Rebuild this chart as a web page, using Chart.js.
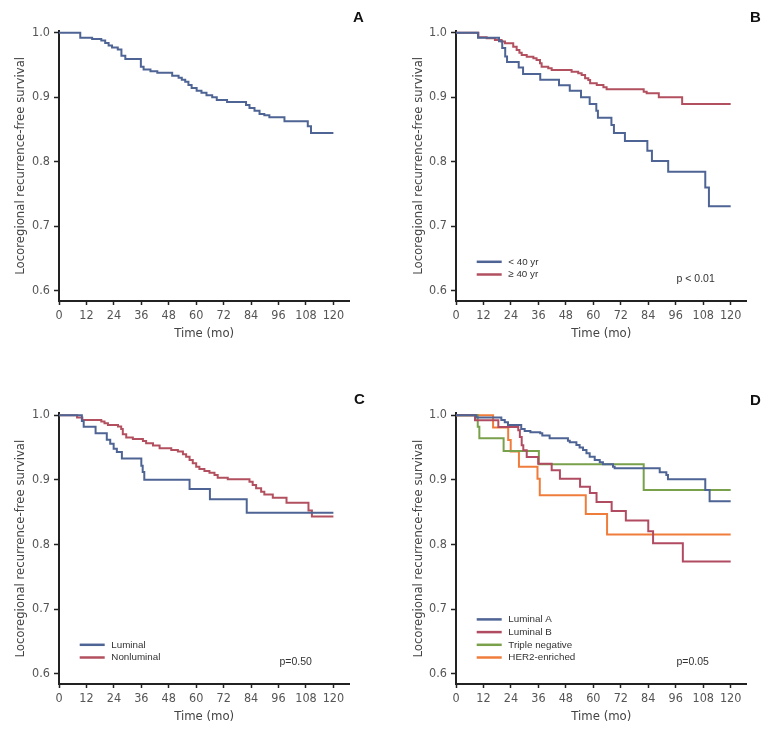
<!DOCTYPE html>
<html><head><meta charset="utf-8">
<script src="https://cdn.jsdelivr.net/npm/chart.js@4.4.1/dist/chart.umd.min.js"></script>
<style>
html,body{margin:0;padding:0;background:#fff;}
body{width:761px;height:731px;position:relative;overflow:hidden;}
canvas{position:absolute;}
.lbl{position:absolute;font:bold 15px "Liberation Sans",Arial,sans-serif;color:#111;line-height:15px;}
</style></head><body>
<canvas id="cA" width="380" height="345" style="left:0;top:0"></canvas>
<canvas id="cB" width="381" height="345" style="left:380px;top:0"></canvas>
<canvas id="cC" width="380" height="351" style="left:0;top:380px"></canvas>
<canvas id="cD" width="381" height="351" style="left:380px;top:380px"></canvas>
<div class="lbl" style="left:353px;top:9px">A</div>
<div class="lbl" style="left:750px;top:9px">B</div>
<div class="lbl" style="left:354px;top:391px">C</div>
<div class="lbl" style="left:750px;top:392px">D</div>
<script>
// ---- tick labels ----
const xTickValues = [0, 12, 24, 36, 48, 60, 72, 84, 96, 108, 120];
const yTickValues = [0.6, 0.7, 0.8, 0.9, 1.0];
const xTitle = 'Time (mo)';
const yTitle = 'Locoregional recurrence-free survival';

// ---- Panel A: all patients ----
const aTime = [9.3, 14.5, 18.5, 20.2, 21.7, 23.2, 25.7, 27.3, 29, 35.8, 37, 40, 43, 49.5, 52.3, 53.7, 55.2, 56.6, 58, 60.2, 62.3, 64.5, 67, 69, 73.5, 81.8, 83.3, 85.5, 87.7, 89.8, 92, 98.6, 108.8, 110.2, 120];
const aSurv = [0.992, 0.990, 0.988, 0.984, 0.980, 0.977, 0.974, 0.964, 0.959, 0.947, 0.943, 0.940, 0.938, 0.933, 0.930, 0.927, 0.924, 0.919, 0.914, 0.910, 0.907, 0.903, 0.900, 0.8955, 0.8925, 0.888, 0.883, 0.879, 0.874, 0.872, 0.8687, 0.8625, 0.855, 0.8445, 0.8445];

// ---- Panel B: age ----
const bLabels = ['< 40 yr', '\u2265 40 yr'];
const bYoungTime = [9.6, 18.8, 20.2, 21.5, 22.3, 27.4, 29.3, 36.8, 45, 49.7, 54.6, 58.4, 61.3, 62, 67.9, 69, 73.8, 83.6, 85.6, 92.7, 108.9, 110.5, 120];
const bYoungSurv = [0.992, 0.9866, 0.976, 0.963, 0.9545, 0.946, 0.936, 0.927, 0.9184, 0.910, 0.900, 0.8895, 0.879, 0.868, 0.857, 0.8445, 0.832, 0.817, 0.801, 0.7845, 0.760, 0.731, 0.731];
const bOldTime = [9.8, 13.4, 17, 19.9, 21.4, 25, 26.5, 27.7, 28.7, 30.9, 33.8, 35.2, 36.7, 37.4, 40.3, 41.8, 50.5, 53.4, 54.9, 56.4, 57.8, 58.6, 61.5, 64.4, 65.8, 82, 83.3, 88.6, 98.8, 120];
const bOldSurv = [0.9928, 0.9912, 0.9887, 0.9861, 0.9835, 0.9783, 0.9731, 0.969, 0.9654, 0.9628, 0.9602, 0.9576, 0.9525, 0.9473, 0.9447, 0.9421, 0.9395, 0.937, 0.9344, 0.9292, 0.9266, 0.9214, 0.9188, 0.9152, 0.9121, 0.9085, 0.9059, 0.8997, 0.8894, 0.8894];
const bP = 'p < 0.01';

// ---- Panel C: luminal vs nonluminal ----
const cLabels = ['Luminal', 'Nonluminal'];
const cLumTime = [10, 10.8, 16, 20.9, 22.4, 23.9, 25.3, 27.5, 36, 36.6, 37.3, 57.1, 66, 82.1, 120];
const cLumSurv = [0.991, 0.982, 0.972, 0.962, 0.956, 0.948, 0.943, 0.933, 0.922, 0.912, 0.900, 0.886, 0.870, 0.849, 0.849];
const cNonTime = [7.9, 10.2, 18.5, 19.9, 21.4, 25.8, 27.2, 27.9, 29.4, 32.3, 36.7, 38.1, 41.1, 44, 49.1, 52, 54.2, 55.6, 57.1, 58.5, 60, 61.4, 63.6, 65.8, 68, 69.4, 73.8, 83.3, 84.7, 86.2, 88.4, 89.8, 93.5, 99.5, 109.1, 110.6, 120];
const cNonSurv = [0.9964, 0.9928, 0.9902, 0.9876, 0.985, 0.9824, 0.9788, 0.9705, 0.9654, 0.9633, 0.9602, 0.9566, 0.953, 0.9488, 0.9462, 0.9437, 0.9395, 0.9359, 0.9307, 0.9256, 0.9204, 0.9168, 0.9137, 0.9111, 0.9075, 0.9034, 0.9008, 0.8971, 0.892, 0.8868, 0.8816, 0.8775, 0.8723, 0.8646, 0.8527, 0.8434, 0.8434];
const cP = 'p=0.50';

// ---- Panel D: subtypes ----
const dLabels = ['Luminal A', 'Luminal B', 'Triple negative', 'HER2-enriched'];
const dLumATime = [8.9, 19.8, 21.3, 22.7, 28.5, 30, 32.5, 36.8, 37.7, 40.9, 48.9, 49.7, 52.6, 54, 55.5, 57, 58.4, 60.6, 62.8, 64.2, 68.6, 69.3, 89, 91.9, 92.6, 108.9, 110.8, 120];
const dLumASurv = [0.9964, 0.9928, 0.9892, 0.985, 0.9788, 0.9757, 0.9736, 0.9721, 0.9685, 0.9643, 0.9607, 0.9581, 0.954, 0.9499, 0.9462, 0.941, 0.9359, 0.9307, 0.9271, 0.924, 0.9204, 0.9178, 0.9116, 0.9075, 0.9008, 0.8842, 0.867, 0.867];
const dLumBTime = [8.3, 18.5, 27.2, 27.9, 28.7, 29.4, 30.9, 35.9, 41.8, 45.4, 54.2, 58.5, 61.4, 68, 74.2, 84, 86.1, 99.1, 120];
const dLumBSurv = [0.9922, 0.9819, 0.9767, 0.9664, 0.9535, 0.9457, 0.9354, 0.9251, 0.9147, 0.9018, 0.8893, 0.8796, 0.8656, 0.8516, 0.837, 0.8206, 0.802, 0.7736, 0.7736];
const dTNTime = [9.5, 10.2, 20.8, 36.2, 82, 120];
const dTNSurv = [0.982, 0.9643, 0.9447, 0.924, 0.8842, 0.8842];
const dHerTime = [16.2, 22.8, 23.9, 27.5, 35.6, 36.6, 56.7, 66, 120];
const dHerSurv = [0.981, 0.9618, 0.9437, 0.9204, 0.9018, 0.876, 0.847, 0.8155, 0.8155];
const dP = 'p=0.05';

// ---- styling ----
const FONT = '"DejaVu Sans Condensed","Liberation Sans",sans-serif';
const LFONT = '"Liberation Sans",Arial,sans-serif';
const BLUE = '#4e6494', RED = '#b3505f', GREEN = '#79a04b', ORANGE = '#f07c3c', REDB = '#b04b62';

function km(times, survs) {
  return [{x: 0, y: 1}].concat(times.map((t, i) => ({x: t, y: survs[i]})));
}
function ds(label, times, survs, color) {
  return {label, data: km(times, survs), borderColor: color, backgroundColor: color,
    borderWidth: 2, pointRadius: 0, stepped: 'before', fill: false, tension: 0};
}

const kmOverlay = {
  id: 'kmOverlay',
  afterDatasetsDraw(chart, args, opts) {
    const {ctx, chartArea: ca} = chart;
    ctx.save();
    if (opts.legend) {
      const n = chart.data.datasets.length;
      const lastY = ca.bottom - 26.5;
      chart.data.datasets.forEach((d, i) => {
        const y = lastY - (n - 1 - i) * 12.7;
        ctx.strokeStyle = d.borderColor; ctx.lineWidth = 2.5;
        ctx.beginPath(); ctx.moveTo(ca.left + 20.7, y); ctx.lineTo(ca.left + 45.7, y); ctx.stroke();
        ctx.fillStyle = '#333'; ctx.font = '9.8px ' + LFONT;
        ctx.textBaseline = 'middle'; ctx.textAlign = 'left';
        ctx.fillText(d.label, ca.left + 52.3, y);
      });
    }
    if (opts.pText) {
      ctx.fillStyle = '#333'; ctx.font = '10.5px ' + LFONT;
      ctx.textBaseline = 'middle'; ctx.textAlign = 'left';
      ctx.fillText(opts.pText, ca.left + 220.5, ca.bottom - 22);
    }
    ctx.restore();
  }
};

function makeChart(id, datasets, geo, overlay) {
  return new Chart(document.getElementById(id), {
    type: 'line',
    data: {datasets},
    options: {
      responsive: false, animation: false, devicePixelRatio: 1,
      layout: {padding: {top: geo.top, right: geo.right, left: 0, bottom: 0}},
      plugins: {legend: {display: false}, tooltip: {enabled: false}, kmOverlay: overlay},
      scales: {
        x: {
          type: 'linear', min: 0, max: 127,
          afterBuildTicks: s => { s.ticks = xTickValues.map(v => ({value: v})); },
          afterFit: s => { s.height = geo.xh; },
          grid: {display: true, drawOnChartArea: false, drawTicks: true, tickLength: 4, tickColor: '#222', tickWidth: 1.5},
          border: {display: true, color: '#222', width: 2},
          ticks: {color: '#555', font: {family: FONT, size: 12.5}, padding: 3, maxRotation: 0, autoSkip: false, callback: v => String(v)},
          title: {display: true, text: xTitle, color: '#444', font: {family: FONT, size: 13}, padding: {top: 0, bottom: geo.xtp}}
        },
        y: {
          type: 'linear', min: 0.584, max: 1.003,
          afterBuildTicks: s => { s.ticks = yTickValues.map(v => ({value: v})); },
          afterFit: s => { s.width = geo.yw; },
          grid: {display: true, drawOnChartArea: false, drawTicks: true, tickLength: 5, tickColor: '#222', tickWidth: 1.5},
          border: {display: true, color: '#222', width: 2},
          ticks: {color: '#555', font: {family: FONT, size: 12.5}, padding: 4, callback: v => v.toFixed(1)},
          title: {display: true, text: yTitle, color: '#444', font: {family: FONT, size: 13}, padding: {top: geo.ytp, bottom: 0}}
        }
      }
    },
    plugins: [kmOverlay]
  });
}

makeChart('cA', [ds('All patients', aTime, aSurv, BLUE)],
  {top: 30.7, right: 30.6, xh: 44, xtp: 4, yw: 59, ytp: 13}, {legend: false, pText: ''});
makeChart('cB', [ds(bLabels[0], bYoungTime, bYoungSurv, BLUE), ds(bLabels[1], bOldTime, bOldSurv, RED)],
  {top: 30.7, right: 14.3, xh: 44, xtp: 4, yw: 76, ytp: 30.5}, {legend: true, pText: bP});
makeChart('cC', [ds(cLabels[0], cLumTime, cLumSurv, BLUE), ds(cLabels[1], cNonTime, cNonSurv, RED)],
  {top: 33.3, right: 30.6, xh: 47, xtp: 6.3, yw: 59, ytp: 13}, {legend: true, pText: cP});
makeChart('cD', [ds(dLabels[0], dLumATime, dLumASurv, BLUE), ds(dLabels[1], dLumBTime, dLumBSurv, REDB),
                 ds(dLabels[2], dTNTime, dTNSurv, GREEN), ds(dLabels[3], dHerTime, dHerSurv, ORANGE)],
  {top: 33.3, right: 14.3, xh: 47, xtp: 6.3, yw: 76, ytp: 30.5}, {legend: true, pText: dP});
</script>
</body></html>
